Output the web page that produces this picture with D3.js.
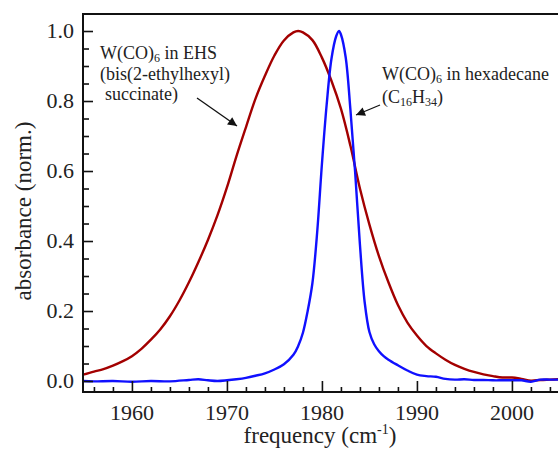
<!DOCTYPE html>
<html>
<head>
<meta charset="utf-8">
<script src="https://cdn.jsdelivr.net/npm/d3@7"></script>
<style>
  body { margin: 0; background: #fff; }
</style>
</head>
<body>
<div id="chart-area"></div>
<script>
// W(CO)6 in EHS
var ehsFreq = [1954.85, 1956, 1957, 1958, 1959, 1960, 1961, 1962, 1963, 1964, 1965, 1966, 1967, 1968, 1969, 1970,
    1971, 1972, 1973, 1974, 1975, 1976, 1977, 1977.5, 1978, 1979, 1980, 1981, 1982, 1983, 1984, 1985, 1986,
    1987, 1988, 1989, 1990, 1991, 1992, 1993, 1994, 1995, 1996, 1997, 1998, 1999, 2000, 2001, 2002, 2003, 2004, 2005];
var ehsAbs = [0.018, 0.027, 0.034, 0.044, 0.056, 0.071, 0.092, 0.118, 0.148, 0.185, 0.230, 0.282, 0.340, 0.403, 0.473, 0.553,
    0.642, 0.725, 0.806, 0.872, 0.930, 0.973, 0.996, 1.0, 0.996, 0.974, 0.924, 0.858, 0.778, 0.672, 0.550, 0.447, 0.357,
    0.282, 0.217, 0.167, 0.130, 0.100, 0.079, 0.061, 0.046, 0.035, 0.026, 0.019, 0.014, 0.010, 0.010, 0.006, 0.001, 0.003, 0.004, 0.005];

// W(CO)6 in hexadecane
var hexFreq = [1954.85, 1956, 1958, 1960, 1962, 1964, 1966, 1967, 1968, 1969, 1970, 1971, 1972, 1973, 1974, 1975, 1976,
    1977, 1977.5, 1978, 1978.5, 1979, 1979.5, 1980, 1980.5, 1981, 1981.5, 1981.8, 1982, 1982.5, 1983, 1983.5, 1984,
    1984.5, 1985, 1985.5, 1986, 1986.5, 1987, 1988, 1989, 1990, 1991, 1992, 1993, 1994, 1995, 1996, 1997, 1998,
    1999, 2000, 2001, 2002, 2003, 2004, 2005];
var hexAbs = [0.0, -0.001, 0.0, -0.002, 0.0, -0.001, 0.003, 0.005, 0.002, 0.0, 0.002, 0.005, 0.009, 0.015, 0.022, 0.033, 0.048,
    0.075, 0.100, 0.138, 0.200, 0.280, 0.425, 0.620, 0.790, 0.920, 0.985, 1.0, 0.990, 0.925, 0.775, 0.595, 0.390,
    0.225, 0.140, 0.105, 0.085, 0.071, 0.061, 0.045, 0.030, 0.018, 0.014, 0.012, 0.006, 0.004, 0.005, 0.003, 0.003, 0.002,
    0.002, 0.002, 0.002, -0.002, 0.004, 0.004, 0.004];

var xTicks = [1960, 1970, 1980, 1990, 2000];
var yTicks = [0.0, 0.2, 0.4, 0.6, 0.8, 1.0];

var margin = {top: 14, left: 83};
var width = 475;
var height = 378;
var serif = "Liberation Serif, DejaVu Serif";

var svg = d3.select("#chart-area")
    .append("svg")
        .attr("width", 558)
        .attr("height", 451)
        .attr("font-family", serif);

var g = svg.append("g")
    .attr("transform", "translate(" + margin.left + ", " + margin.top + ")");

var x = d3.scaleLinear()
    .domain([1954.85, 2004.85])
    .range([0, width]);

var y = d3.scaleLinear()
    .domain([-0.0314, 1.0486])
    .range([height, 0]);

var defs = svg.append("defs");
defs.append("clipPath")
    .attr("id", "clip")
    .append("rect")
        .attr("width", width)
        .attr("height", height);

defs.append("marker")
    .attr("id", "arrow")
    .attr("viewBox", "0 0 10 10")
    .attr("refX", 10)
    .attr("refY", 5)
    .attr("markerWidth", 13)
    .attr("markerHeight", 9)
    .attr("markerUnits", "userSpaceOnUse")
    .attr("orient", "auto")
    .append("path")
        .attr("d", "M0,0 L10,5 L0,10 z")
        .attr("fill", "#111");

var line = d3.line()
    .x((d) => { return x(d[0]); })
    .y((d) => { return y(d[1]); })
    .curve(d3.curveCatmullRom.alpha(0.5));

var plot = g.append("g").attr("clip-path", "url(#clip)");

plot.append("path")
    .datum(d3.zip(ehsFreq, ehsAbs))
    .attr("d", line)
    .attr("fill", "none")
    .attr("stroke", "#a30000")
    .attr("stroke-width", 2.4);

plot.append("path")
    .datum(d3.zip(hexFreq, hexAbs))
    .attr("d", line)
    .attr("fill", "none")
    .attr("stroke", "#1010ff")
    .attr("stroke-width", 2.4);

// axes, ticks pointing inward
var leftAxis = d3.axisRight(y)
    .tickValues(d3.range(0, 1.0001, 0.05))
    .tickSize(6)
    .tickFormat("");
var gl = g.append("g").attr("class", "left axis").call(leftAxis);
gl.selectAll(".tick line")
    .attr("x2", (d) => { return Math.abs(d * 5 - Math.round(d * 5)) < 1e-6 ? 10 : 6; });

var bottomAxis = d3.axisTop(x)
    .tickValues(d3.range(1956, 2005, 2))
    .tickSize(5)
    .tickFormat("");
var gb = g.append("g")
    .attr("class", "x axis")
    .attr("transform", "translate(0, " + height + ")")
    .call(bottomAxis);
gb.selectAll(".tick line")
    .attr("y2", (d) => { return d % 10 === 0 ? -11 : -5; });

g.selectAll(".domain").remove();
g.selectAll(".tick line").attr("stroke", "#111").attr("stroke-width", 1.6);

// frame: left, top, bottom
g.append("path")
    .attr("d", "M" + (width + 5) + ",0 H0 V" + height + " H" + (width + 5))
    .attr("fill", "none")
    .attr("stroke", "#111")
    .attr("stroke-width", 2);

g.selectAll(".ylab")
    .data(yTicks)
    .enter()
    .append("text")
        .attr("class", "ylab")
        .attr("x", -9)
        .attr("y", (d) => { return y(d); })
        .attr("dy", "0.34em")
        .attr("text-anchor", "end")
        .attr("font-size", "22px")
        .attr("fill", "#222")
        .text((d) => { return d.toFixed(1); });

g.selectAll(".xlab")
    .data(xTicks)
    .enter()
    .append("text")
        .attr("class", "xlab")
        .attr("x", (d) => { return x(d); })
        .attr("y", height + 28)
        .attr("text-anchor", "middle")
        .attr("font-size", "22px")
        .attr("fill", "#222")
        .text((d) => { return d; });

var xTitle = svg.append("text")
    .attr("x", 320)
    .attr("y", 443)
    .attr("text-anchor", "middle")
    .attr("font-size", "23px")
    .attr("fill", "#222");
xTitle.append("tspan").text("frequency (cm");
xTitle.append("tspan").attr("font-size", "14px").attr("dy", -9).text("-1");
xTitle.append("tspan").attr("dy", 9).text(")");

svg.append("text")
    .attr("transform", "translate(31, 211) rotate(-90)")
    .attr("text-anchor", "middle")
    .attr("font-size", "23px")
    .attr("fill", "#222")
    .text("absorbance (norm.)");

// annotations
var note = svg.append("g")
    .attr("font-size", "18px")
    .attr("fill", "#222");

var a1 = note.append("text").attr("x", 100).attr("y", 59);
a1.append("tspan").text("W(CO)");
a1.append("tspan").attr("font-size", "12px").attr("dy", 3).text("6");
a1.append("tspan").attr("dy", -3).text(" in EHS");
note.append("text").attr("x", 100).attr("y", 80).text("(bis(2-ethylhexyl)");
note.append("text").attr("x", 105).attr("y", 100).text("succinate)");

var a2 = note.append("text").attr("x", 382).attr("y", 80);
a2.append("tspan").text("W(CO)");
a2.append("tspan").attr("font-size", "12px").attr("dy", 3).text("6");
a2.append("tspan").attr("dy", -3).text(" in hexadecane");
var a3 = note.append("text").attr("x", 382).attr("y", 103);
a3.append("tspan").text("(C");
a3.append("tspan").attr("font-size", "12px").attr("dy", 3).text("16");
a3.append("tspan").attr("dy", -3).text("H");
a3.append("tspan").attr("font-size", "12px").attr("dy", 3).text("34");
a3.append("tspan").attr("dy", -3).text(")");

svg.append("line")
    .attr("x1", 197).attr("y1", 98).attr("x2", 237).attr("y2", 126)
    .attr("stroke", "#111").attr("stroke-width", 1.3)
    .attr("marker-end", "url(#arrow)");
svg.append("line")
    .attr("x1", 380).attr("y1", 105).attr("x2", 356).attr("y2", 115)
    .attr("stroke", "#111").attr("stroke-width", 1.3)
    .attr("marker-end", "url(#arrow)");
</script>
</body>
</html>
